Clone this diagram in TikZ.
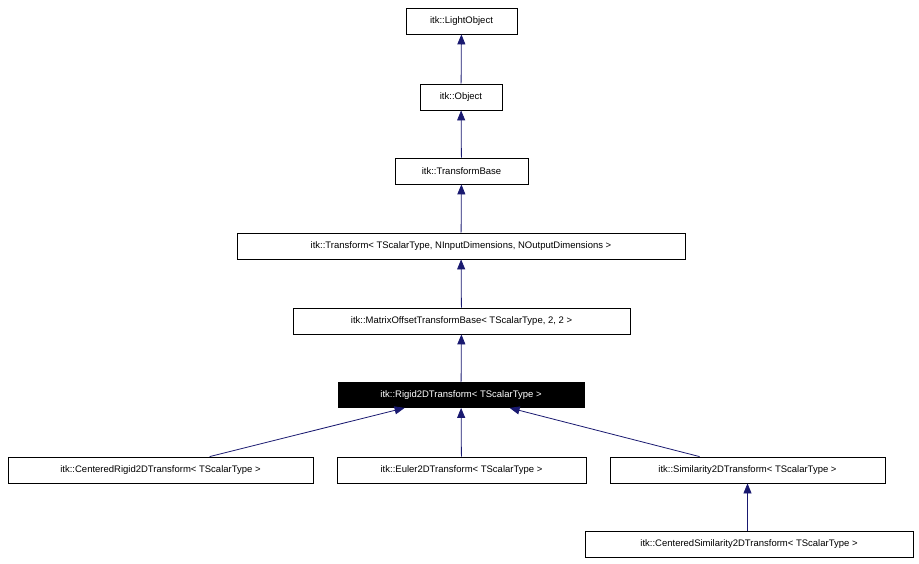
\documentclass[tikz,border=0pt]{standalone}
\usepackage{fontspec}
\setmainfont{Liberation Sans}
\usetikzlibrary{calc,arrows.meta}
\begin{document}
\begin{tikzpicture}[x=1pt,y=-1pt,
  box/.style={draw=black,line width=0.8pt,inner sep=0pt,minimum height=26pt,font=\fontsize{9.5}{11}\selectfont,anchor=center},
  inh/.style={draw={rgb,255:red,25;green,25;blue,112},line width=0.8pt,-{Triangle[length=10pt,width=8pt,fill={rgb,255:red,25;green,25;blue,112}]}}]
\useasboundingbox (0,0) rectangle (919,564);
\node[box,minimum width=111pt] (lo) at (461.5,21) {itk::LightObject};
\node[box,minimum width=82pt] (ob) at (461,97) {itk::Object};
\node[box,minimum width=133pt] (tb) at (461.5,171) {itk::TransformBase};
\node[box,minimum width=448pt] (tr) at (461,246) {itk::Transform< TScalarType, NInputDimensions, NOutputDimensions >};
\node[box,minimum width=337pt] (mo) at (461.5,321) {itk::MatrixOffsetTransformBase< TScalarType, 2, 2 >};
\node[box,minimum width=246pt,minimum height=25pt,fill=black,text=white] (ri) at (461,395) {itk::Rigid2DTransform< TScalarType >};
\node[box,minimum width=305pt] (cr) at (160.5,470) {itk::CenteredRigid2DTransform< TScalarType >};
\node[box,minimum width=249pt] (eu) at (461.5,470) {itk::Euler2DTransform< TScalarType >};
\node[box,minimum width=275pt] (si) at (747.5,470) {itk::Similarity2DTransform< TScalarType >};
\node[box,minimum width=328pt] (cs) at (749,544) {itk::CenteredSimilarity2DTransform< TScalarType >};
\draw[inh] (ob) -- (lo);
\draw[inh] (tb) -- (ob);
\draw[inh] (tr) -- (tb);
\draw[inh] (mo) -- (tr);
\draw[inh] (ri) -- (mo);
\draw[inh] (eu) -- (ri);
\draw[inh] ($(cr.north west)+(202,0)$) -- ($(ri.south west)+(67,0)$);
\draw[inh] ($(si.north west)+(90,0)$) -- ($(ri.south west)+(172,0)$);
\draw[inh] (cs.north -| si.south) -- (si.south);
\end{tikzpicture}
\end{document}
